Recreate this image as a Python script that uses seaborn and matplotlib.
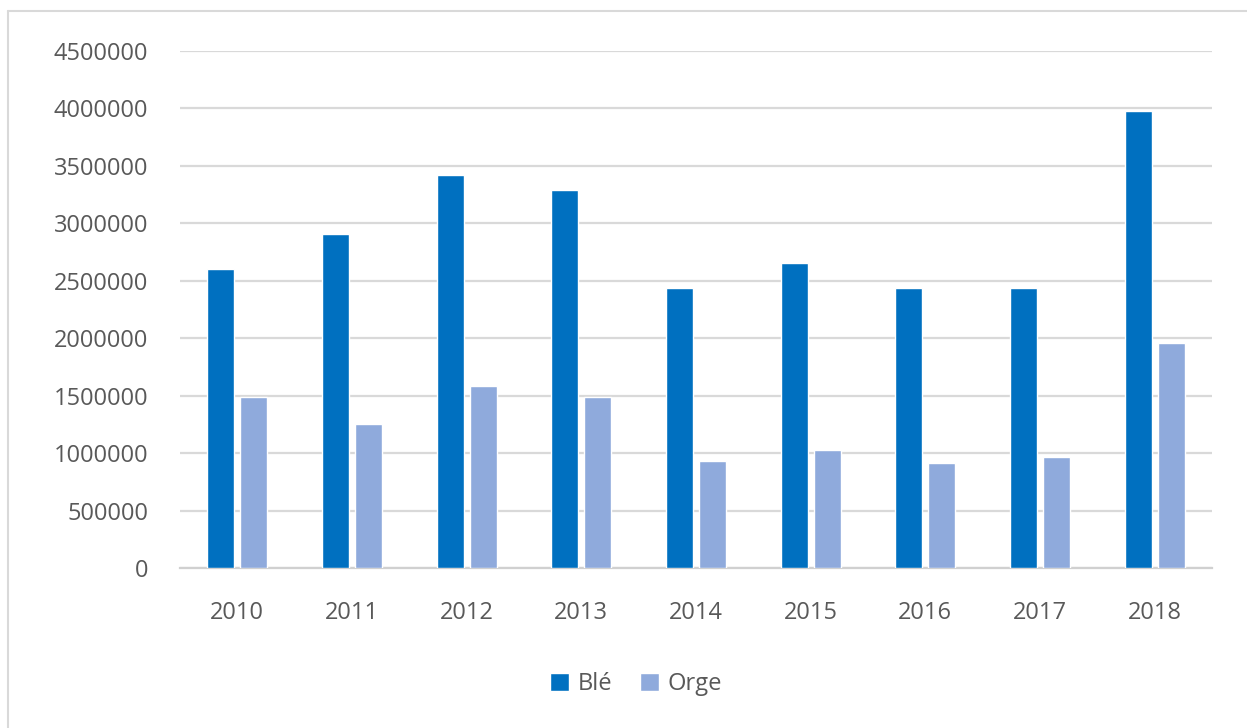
import matplotlib
matplotlib.use("Agg")
import matplotlib.pyplot as plt
import seaborn as sns
import pandas as pd
from matplotlib.lines import Line2D

years = ["2010", "2011", "2012", "2013", "2014", "2015", "2016", "2017", "2018"]
ble = [2600000, 2910000, 3420000, 3290000, 2435000, 2655000, 2440000, 2435000, 3980000]
orge = [1490000, 1255000, 1580000, 1485000, 935000, 1025000, 915000, 965000, 1955000]

df = pd.DataFrame({
    "Année": years * 2,
    "Production": ble + orge,
    "Culture": ["Blé"] * len(years) + ["Orge"] * len(years),
})

sns.set_style("white")
plt.rcParams["font.family"] = ["Open Sans", "DejaVu Sans"]

fig = plt.figure(figsize=(12.47, 7.28), dpi=100)
ax = fig.add_axes([180 / 1247, 1 - 568 / 728, 1032 / 1247, 517 / 728])

sns.barplot(data=df, x="Année", y="Production", hue="Culture",
            palette={"Blé": "#0070C0", "Orge": "#8FAADC"}, saturation=1,
            width=0.576, gap=0.18, ax=ax, zorder=3, legend=True)

ax.set_ylim(0, 4500000)
ax.set_xlim(-0.5, len(years) - 0.5)
ax.set_yticks(range(0, 4500001, 500000))
ax.set_yticklabels([str(v) for v in range(0, 4500001, 500000)])
ax.yaxis.grid(True, color="#D9D9D9", linewidth=1.6, zorder=0)
ax.set_axisbelow(True)
for s in ["top", "right", "left"]:
    ax.spines[s].set_visible(False)
ax.spines["bottom"].set_color("#D0D0D0")
ax.spines["bottom"].set_linewidth(1.6)
ax.tick_params(axis="both", length=0, labelsize=17, colors="#595959")
ax.tick_params(axis="y", pad=23)
ax.tick_params(axis="x", pad=24)
ax.set_xlabel("")
ax.set_ylabel("")

handles, labels = ax.get_legend_handles_labels()
ax.legend(handles, labels, loc="center", bbox_to_anchor=(636 / 1247, 1 - 684 / 728),
          bbox_transform=fig.transFigure, ncol=2, frameon=False, fontsize=17,
          handlelength=0.8, handleheight=0.8, handletextpad=0.35, columnspacing=1.2,
          labelcolor="#595959")

# outer chart border (top and left visible)
fig.add_artist(Line2D([8 / 1247, 1.0], [1 - 11 / 728, 1 - 11 / 728],
                      transform=fig.transFigure, color="#D9D9D9", linewidth=1.5))
fig.add_artist(Line2D([8 / 1247, 8 / 1247], [0.0, 1 - 11 / 728],
                      transform=fig.transFigure, color="#D9D9D9", linewidth=1.5))

fig.savefig("out.png", dpi=100, facecolor="white")
